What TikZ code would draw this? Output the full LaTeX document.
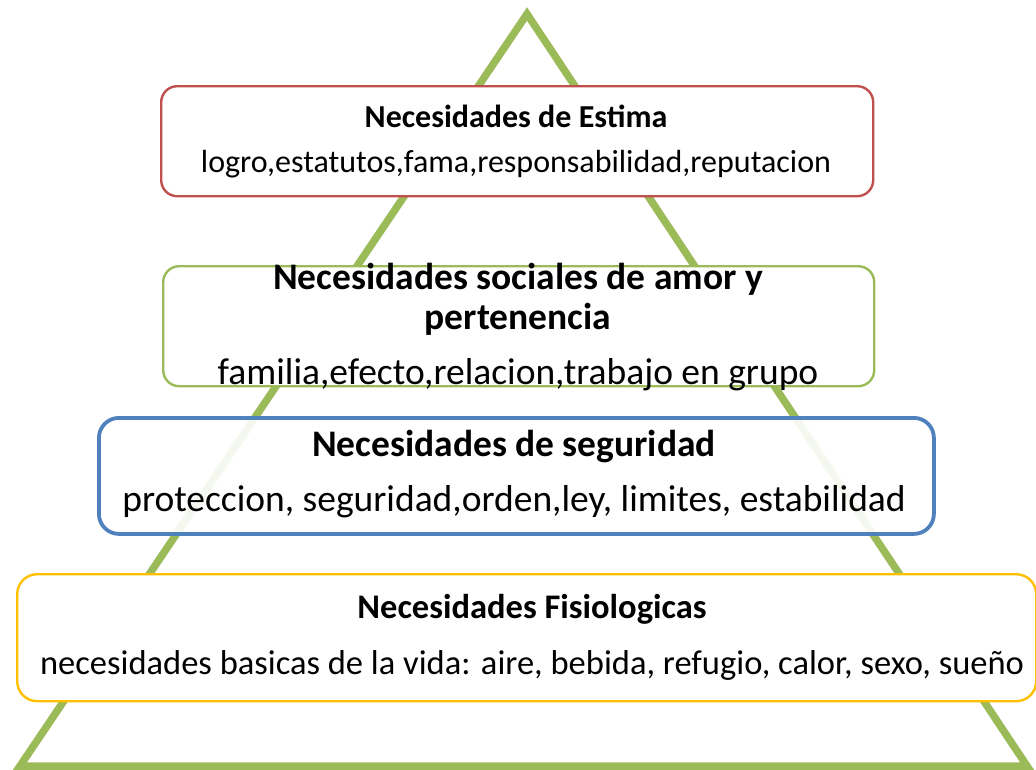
\documentclass[tikz,border=0pt]{standalone}
\usepackage{fontspec}
\setmainfont{Carlito}
\definecolor{tri}{HTML}{9BBB59}
\definecolor{cred}{HTML}{C0504D}
\definecolor{cgreen}{HTML}{9BBB59}
\definecolor{cblue}{HTML}{4F81BD}
\definecolor{cyellow}{HTML}{FFC000}
\begin{document}
\begin{tikzpicture}[x=1pt,y=-1pt,
  box/.style={draw=#1,rounded corners=16pt,fill=white,inner sep=0pt,anchor=north west},
  ttl/.style={font=\fontsize{#1}{#1}\selectfont\bfseries,inner sep=0pt},
  body/.style={font=\fontsize{#1}{#1}\selectfont,inner sep=0pt}]
\useasboundingbox (0,0) rectangle (1036,769);
\coordinate (apex) at (527,14);
\coordinate (bl) at (20,766);
\coordinate (br) at (1027,766);
\draw[tri,line width=7.5pt,line join=miter] (apex) -- (br) -- (bl) -- cycle;
% red box
\node[box=cred,line width=2.4pt,minimum width=712pt,minimum height=110pt] (r) at (160,85) {};
\node[ttl=32] (rt) at (516,116) {Necesidades de Estima};
\node[body=32] (rb) at (516,164) {logro,estatutos,fama,responsabilidad,reputacion};
% green box
\node[box=cgreen,line width=2.4pt,minimum width=711pt,minimum height=120pt] (g) at (162,265) {};
\node[ttl=37.5] (gt1) at (518,279) {Necesidades sociales de amor y};
\node[ttl=37.5] (gt2) at (518,319) {pertenencia};
\node[body=37.5] (gb) at (518,375) {familia,efecto,relacion,trabajo en grupo};
% blue box
\node[box=cblue,line width=3.8pt,fill opacity=0.9,minimum width=835pt,minimum height=116pt,rounded corners=20pt] (b) at (97,416) {};
\node[ttl=37.5] (bt) at (514,447) {Necesidades de seguridad};
\node[body=37.5] (bb) at (514,502) {proteccion, seguridad,orden,ley, limites, estabilidad};
% yellow box
\node[box=cyellow,line width=2.4pt,minimum width=1019pt,minimum height=127pt,rounded corners=20pt] (y) at (16,573) {};
\node[ttl=34.5] (yt) at (532,609) {Necesidades Fisiologicas};
\node[body=34.5] (yb) at (532,665) {necesidades basicas de la vida: aire, bebida, refugio, calor, sexo, sueño};
\end{tikzpicture}
\end{document}
